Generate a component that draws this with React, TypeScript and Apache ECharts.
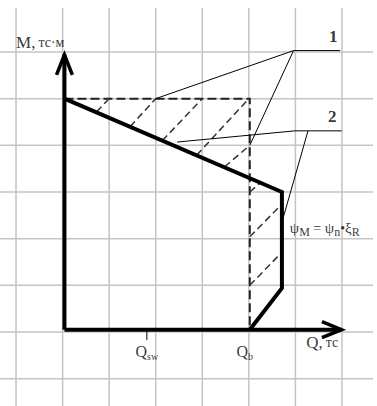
import React, { useEffect, useRef } from 'react';
import * as echarts from 'echarts';

// Coordinates are in grid cells: Q (horizontal) and M (vertical)
const gridQLines = [0, 1, 2, 3, 4, 5, 6, 7];
const gridMLines = [-1, 0, 1, 2, 3, 4, 5, 6];
const gridQExtent = [-0.344, 7.666];
const gridMExtent = [-1.586, 6.943];

const origin = [1.04, 0.05];
const qAxisEnd = 6.99;
const mAxisEnd = 5.94;

// curve 2 : bearing capacity envelope
const envelope = [
  [1.04, 5.0],
  [5.71, 3.0],
  [5.71, 0.94],
  [5.02, 0.05],
];
// curve 1 : dashed rectangular boundary
const boundary = [
  [1.04, 5.0],
  [5.02, 5.0],
  [5.02, 0.05],
];
// hatching between the two curves
const hatches = [
  [[1.73, 4.72], [2.0, 5.0]],
  [[2.45, 4.4], [3.0, 5.0]],
  [[3.14, 4.1], [4.0, 5.0]],
  [[3.88, 3.79], [5.0, 5.0]],
  [[4.48, 3.54], [5.02, 4.0]],
  [[5.02, 3.0], [5.25, 3.2]],
  [[5.02, 2.04], [5.71, 2.74]],
  [[5.02, 1.0], [5.71, 1.71]],
];
// leader lines for callouts "1" and "2"
const leaders1 = [
  [[5.96, 6.03], [3.0, 5.0]],
  [[5.96, 6.03], [5.02, 4.0]],
  [[5.96, 6.03], [6.96, 6.03]],
];
const leaders2 = [
  [[5.99, 4.31], [3.46, 4.07]],
  [[6.27, 4.31], [5.73, 2.42]],
  [[5.99, 4.31], [6.99, 4.31]],
];
const qTicks = [
  { sub: 'sw', q: 2.81, dx: 0 },
  { sub: 'b', q: 5.02, dx: -5 },
];

const SERIF = "'Liberation Serif', 'Times New Roman', serif";

function lineSeries(data: number[][], width: number, color: string, type: any = 'solid', extra: any = {}) {
  return {
    type: 'line',
    data,
    symbol: 'none',
    silent: true,
    clip: false,
    lineStyle: { color, width, type, cap: 'butt', join: 'miter', ...extra },
    z: extra.z || 2,
  };
}

function textPoint(pos: number[], formatter: string, rich: any, align: string, vAlign: string, offset: number[] = [0, 0]) {
  return {
    type: 'scatter',
    symbolSize: 0,
    silent: true,
    z: 10,
    data: [
      {
        value: pos,
        label: {
          show: true,
          position: [0, 0],
          offset,
          align,
          verticalAlign: vAlign,
          formatter,
          rich,
          color: '#000',
          fontFamily: SERIF,
        },
      },
    ],
  };
}

export default function App() {
  const ref = useRef<HTMLDivElement>(null);
  useEffect(() => {
    document.body.style.margin = '0';
    if (!ref.current) return;
    const chart = echarts.init(ref.current, undefined, { renderer: 'svg' });
    const series: any[] = [];
    const gridStyle = '#c4c4c4';
    gridQLines.forEach((q) =>
      series.push(lineSeries([[q, gridMExtent[0]], [q, gridMExtent[1]]], 1.5, gridStyle, 'solid', { z: 1 }))
    );
    gridMLines.forEach((m) =>
      series.push(lineSeries([[gridQExtent[0], m], [gridQExtent[1], m]], 1.5, gridStyle, 'solid', { z: 1 }))
    );
    // axes
    series.push(lineSeries([origin, [origin[0], mAxisEnd]], 4, '#000'));
    series.push(lineSeries([origin, [qAxisEnd, origin[1]]], 4, '#000'));
    series.push(lineSeries([[origin[0] - 0.17, mAxisEnd - 0.43], [origin[0], mAxisEnd], [origin[0] + 0.17, mAxisEnd - 0.43]], 3.5, '#000'));
    series.push(lineSeries([[qAxisEnd - 0.42, origin[1] + 0.17], [qAxisEnd, origin[1]], [qAxisEnd - 0.42, origin[1] - 0.17]], 3.5, '#000'));
    // curves
    series.push(lineSeries(boundary, 2, '#222', [9, 4]));
    hatches.forEach((h) => series.push(lineSeries(h, 1.5, '#333', [7, 4])));
    series.push(lineSeries(envelope, 4, '#000', 'solid', { z: 3 }));
    [...leaders1, ...leaders2].forEach((l) => series.push(lineSeries(l, 1, '#000')));
    // Q tick
    series.push(lineSeries([[qTicks[0].q, origin[1]], [qTicks[0].q, origin[1] - 0.22]], 1, '#000'));

    const big = { fontSize: 16, fontFamily: SERIF, color: '#000', lineHeight: 20 };
    const sub = { fontSize: 10, fontFamily: SERIF, color: '#000', lineHeight: 10, verticalAlign: 'bottom' };
    const sub2 = { fontSize: 12, fontFamily: SERIF, color: '#000', lineHeight: 12, verticalAlign: 'bottom' };
    // labels
    series.push(textPoint([0, 5.98], '{a|M,} {b|тс·м}', { a: { ...big, fontSize: 17 }, b: { ...big, fontSize: 14 } }, 'left', 'bottom'));
    series.push(textPoint([6.23, -0.43], '{a|Q,} {b|тс}', { a: { ...big, fontSize: 17 }, b: { ...big, fontSize: 14 } }, 'left', 'bottom'));
    qTicks.forEach((t) =>
      series.push(textPoint([t.q, -0.2], `{a|Q}{s|${t.sub}}`, { a: big, s: sub }, 'center', 'top', [t.dx, 0]))
    );
    series.push(textPoint([6.81, 6.11], '{n|1}', { n: { ...big, fontSize: 17, fontWeight: 'bold' } }, 'center', 'bottom'));
    series.push(textPoint([6.79, 4.41], '{n|2}', { n: { ...big, fontSize: 17, fontWeight: 'bold' } }, 'center', 'bottom'));
    series.push(
      textPoint(
        [5.88, 2.01],
        '{p|ψ}{s|M}{t| = }{p|ψ}{s|n}{t|•}{p|ξ}{s|R}',
        { p: { ...big, fontSize: 15 }, t: { ...big, fontSize: 14 }, s: sub2 },
        'left',
        'bottom'
      )
    );

    chart.setOption({
      animation: false,
      grid: { left: 0, right: 0, top: 0, bottom: 0 },
      xAxis: { type: 'value', min: gridQExtent[0], max: 7.752, show: false },
      yAxis: { type: 'value', min: gridMExtent[0], max: 7.114, show: false },
      series,
    });
    return () => chart.dispose();
  }, []);
  return <div ref={ref} style={{ width: 377, height: 406, background: '#fff' }} />;
}
